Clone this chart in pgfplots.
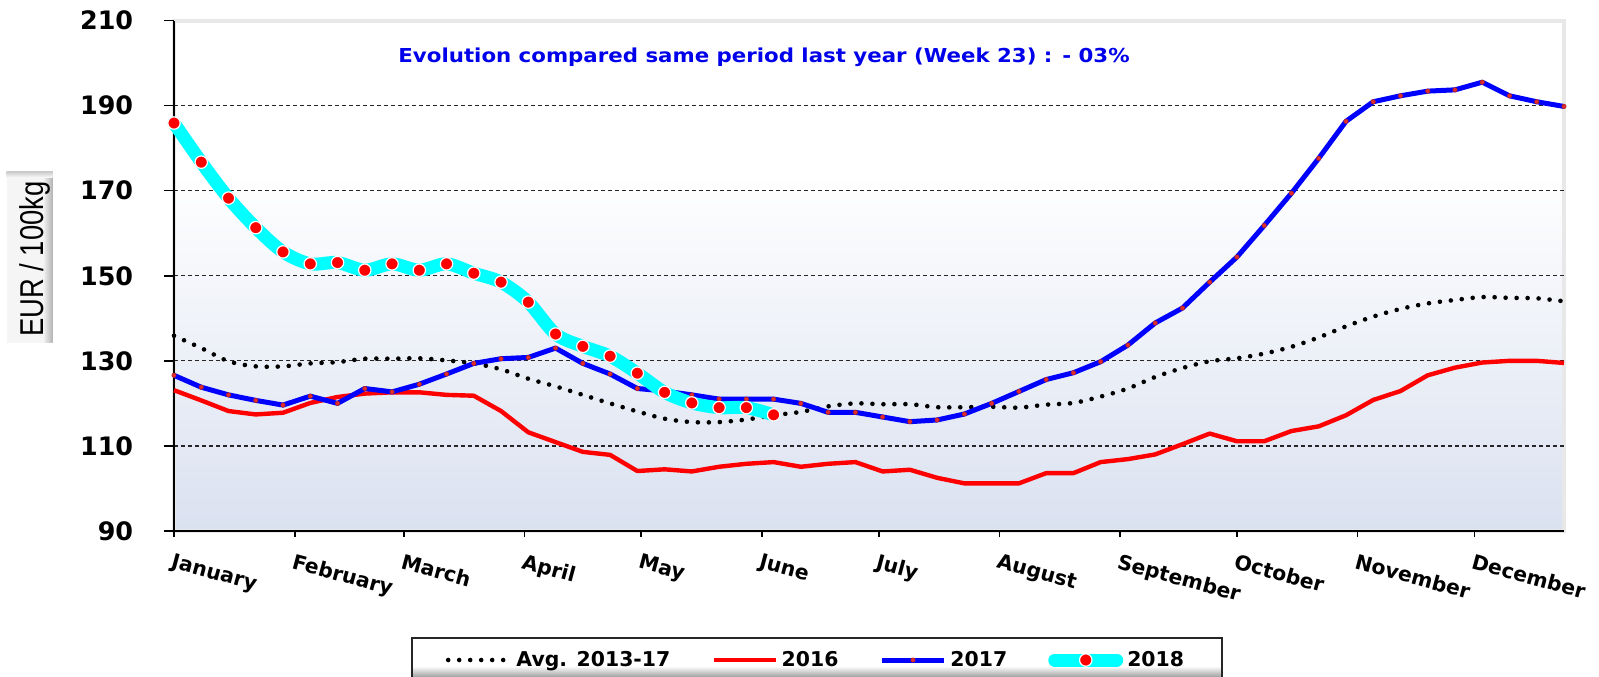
\documentclass[border=0pt]{standalone}
\usepackage{pgfplots}
\pgfplotsset{compat=1.18}
\usepackage{pgfplotstable}
\usepackage{fontspec}
\usepackage{graphicx}
\setmainfont{DejaVu Sans}
\newfontfamily\libsans{Liberation Sans}
\definecolor{bgbot}{RGB}{218,225,240}
\definecolor{annblue}{RGB}{0,0,235}
\definecolor{mkseventeen}{RGB}{225,45,45}
\definecolor{cyanline}{RGB}{0,255,255}
\definecolor{redline}{RGB}{255,0,0}
\definecolor{blueline}{RGB}{0,0,255}
\pgfdeclareverticalshading{plotbg}{100bp}{color(0bp)=(bgbot); color(25bp)=(bgbot); color(60bp)=(white); color(100bp)=(white)}
\pgfdeclareverticalshading{legbg}{100bp}{color(0bp)=(black!55); color(25bp)=(black!55); color(43bp)=(white); color(100bp)=(white)}

\pgfplotstableread{
w avg y16 y17
1 135.9 123.1 126.6
2 133.0 120.7 123.8
3 129.9 118.2 122.0
4 128.7 117.4 120.7
5 128.7 117.8 119.6
6 129.4 120.1 121.7
7 129.7 121.5 120.0
8 130.5 122.3 123.5
9 130.5 122.6 122.7
10 130.6 122.6 124.5
11 130.1 122.0 126.9
12 129.4 121.8 129.4
13 128.0 118.2 130.5
14 125.8 113.2 130.8
15 124.0 110.9 133.0
16 122.0 108.6 129.4
17 120.0 107.9 126.9
18 118.1 104.1 123.5
19 116.4 104.5 122.9
20 115.6 104.0 122.0
21 115.6 105.1 121.0
22 116.2 105.8 121.0
23 117.2 106.2 121.0
24 118.0 105.1 120.0
25 119.3 105.8 117.9
26 120.0 106.2 117.9
27 119.8 104.0 116.8
28 119.8 104.4 115.7
29 119.1 102.5 116.1
30 119.1 101.2 117.5
31 119.2 101.2 120.0
32 119.0 101.2 122.8
33 119.7 103.6 125.6
34 120.1 103.6 127.2
35 121.6 106.2 129.8
36 123.5 106.9 133.7
37 126.2 108.0 138.9
38 128.3 110.4 142.4
39 129.9 112.9 148.5
40 130.6 111.1 154.4
41 131.7 111.1 161.8
42 133.3 113.5 169.4
43 135.5 114.6 177.6
44 138.1 117.2 186.3
45 140.4 120.8 190.9
46 142.2 122.9 192.3
47 143.5 126.6 193.4
48 144.3 128.4 193.7
49 145.0 129.6 195.5
50 144.8 130.0 192.3
51 144.7 130.0 190.9
52 144.0 129.5 189.8
}\datamain

\pgfplotstableread{
w y18
1 185.9
2 176.7
3 168.25
4 161.3
5 155.6
6 152.8
7 153.1
8 151.3
9 152.8
10 151.3
11 152.8
12 150.6
13 148.5
14 143.8
15 136.3
16 133.4
17 131.1
18 127.1
19 122.6
20 120.1
21 119.0
22 119.0
23 117.3
}\dataeighteen

\begin{document}
\begin{tikzpicture}
\useasboundingbox (-87pt,-72.5pt) rectangle (712.5pt,265.5pt);
% y-axis title box
\fill[gray!8] (-83.65pt,94.15pt) rectangle (-60.65pt,179.65pt);
\shade[left color=gray!8, right color=gray!60] (-65.5pt,94.15pt) rectangle (-60.65pt,179.65pt);
\shade[top color=gray!40, bottom color=gray!8] (-83.65pt,177pt) rectangle (-60.65pt,179.65pt);
\node[anchor=base, rotate=90, inner sep=0pt] at (-65.35pt,135.9pt)
  {\scalebox{0.83}[1]{\libsans\fontsize{16.5}{18}\selectfont EUR / 100kg}};

\begin{axis}[
  width=695pt, height=255.25pt, scale only axis,
  xmin=1, xmax=52, ymin=90, ymax=210,
  clip=false,
  axis background/.style={shade, shading=plotbg, draw=gray!18, line width=2pt},
  axis x line*=bottom, axis y line*=left,
  axis line style={black, line width=1pt, -},
  tick align=outside,
  major tick length=5pt,
  tick style={black, line width=0.8pt},
  xtick style={/pgfplots/major tick length=3pt},
  xtick={1,5.43,9.43,13.86,18.14,22.57,26.86,31.29,35.71,40,44.43,48.71},
  xticklabels={January,February,March,April,May,June,July,August,September,October,November,December},
  xticklabel style={yshift=-6pt, rotate=-15, anchor=north west, inner sep=0pt,
    font=\bfseries\fontsize{10.2}{12}\selectfont},
  ytick={110,130,150,170,190},
  extra y ticks={90,210},
  extra y tick style={grid=none},
  ymajorgrids,
  grid style={black!85, line width=0.6pt, dash pattern=on 2.2pt off 1.3pt},
  yticklabel style={font=\bfseries\fontsize{12.7}{14}\selectfont, inner sep=0pt, xshift=-15.25pt},
  /pgf/number format/assume math mode=true,
  legend columns=4,
  legend cell align=left,
  legend style={at={(axis description cs:0.1705,-0.2077)}, anchor=north west,
    draw=black!85, line width=0.9pt, shade, shading=legbg,
    font=\bfseries\fontsize{10.2}{12}\selectfont,
    inner xsep=17pt, inner ysep=4.5pt,
    /tikz/every even column/.append style={column sep=18.5pt}},
  legend image code/.code={\draw[mark repeat=2, mark phase=2, #1] plot coordinates {(0pt,0pt) (15.5pt,0pt) (31pt,0pt)};},
]
\addplot[black, line width=2.3pt, dash pattern=on 0pt off 5.5pt, line cap=round, smooth, tension=0.5]
  table[x=w, y=avg] {\datamain};
\addlegendentry{Avg. 2013-17}
\addplot[redline, line width=2.2pt, line join=round]
  table[x=w, y=y16] {\datamain};
\addlegendentry{2016}
\addplot[blueline, line width=2.5pt, line join=round, mark=*, mark size=1.1pt,
  mark options={fill=mkseventeen, draw=mkseventeen!80!black, line width=0.3pt, solid}]
  table[x=w, y=y17] {\datamain};
\addlegendentry{2017}
\addplot[cyanline, line width=6.5pt, line cap=round, line join=round, smooth, tension=0.5, mark=*, mark size=3.1pt,
  mark options={fill=redline, draw=white, line width=0.6pt, solid}]
  table[x=w, y=y18] {\dataeighteen};
\addlegendentry{2018}
\node[anchor=base west, inner sep=0pt, text=annblue]
  at (axis cs:9.22,200.2) {\scalebox{1.11}[1]{\bfseries\fontsize{9.6}{11}\selectfont Evolution compared same period last year (Week 23) : - 03\%}};
\end{axis}
\end{tikzpicture}
\end{document}
